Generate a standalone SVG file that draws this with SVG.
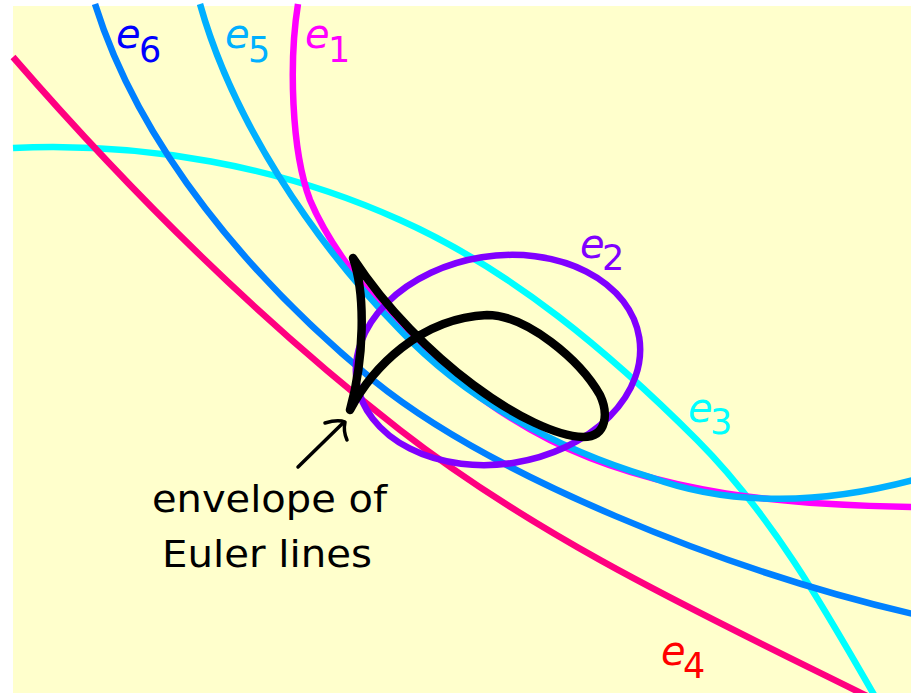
<svg xmlns="http://www.w3.org/2000/svg" width="911" height="693" viewBox="0 0 911 693">
<defs>
<style>
.c{fill:none;stroke-width:6.5;stroke-linecap:butt}
.lbl{font-family:"DejaVu Sans",sans-serif;font-style:italic;font-size:40px}
.sub{font-family:"DejaVu Sans",sans-serif;font-style:normal;font-size:35px}
.txt{font-family:"DejaVu Sans",sans-serif;font-size:38px;fill:#000}
</style>
</defs>
<rect x="13" y="6" width="898" height="687" fill="#FFFFCC"/>
<g id="curves">
<path id="e3" class="c" stroke="#00FFFF" d="M13,148 C144,142 281,166 400,220 C512,270 610,353 697,440 C771,514 825,609 877,700"/>
<path id="e4" class="c" stroke="#FF0080" d="M13,57 C131,193 258,319 400,430 C544,542 712,619 875,700"/>
<path id="e6" class="c" stroke="#0080FF" d="M95,4 C140,148 252,280 373,380 C490,475 723,570 913,614"/>
<path id="e1" class="c" stroke="#FF00FF" d="M298,4 C289,60 291,150 310,200 C346,285 450,390 550,440 C659,495 789,505 913,507"/>
<path id="e5" class="c" stroke="#00B0FF" d="M200,4 C232,118 310,238 400,330 C466,400 557,449 650,477 C733,508 826,503 913,480"/>
<ellipse id="e2" class="c" stroke="#8000FF" cx="498" cy="360" rx="143" ry="104" transform="rotate(-9 498 360)"/>
</g>
<g id="envelope">
<path fill="none" stroke="#000" stroke-width="8.5" stroke-linecap="round" stroke-linejoin="round" d="M353,258 C366,295 364,360 350,410 C372,368 420,318 487,315 C527,315 580,360 600,395 C608,412 608,437 583,437 C530,435 420,360 353,258"/>
</g>
<g id="connectors">
<path fill="none" stroke="#000" stroke-width="3.5" stroke-linecap="round" d="M298,467 L344,422"/>
<path fill="none" stroke="#000" stroke-width="3.5" stroke-linecap="round" stroke-linejoin="round" d="M325,423 Q338,419 345,422 Q343,431 347,440"/>
</g>
<g id="labels">
<text class="lbl" x="116" y="48" fill="#0000FF">e<tspan class="sub" x="139" y="62">6</tspan></text>
<text class="lbl" x="225" y="48" fill="#00B0FF">e<tspan class="sub" x="248" y="62">5</tspan></text>
<text class="lbl" x="305" y="48" fill="#FF00FF">e<tspan class="sub" x="328" y="62">1</tspan></text>
<text class="lbl" x="580" y="258" fill="#8000FF">e<tspan class="sub" x="602" y="270">2</tspan></text>
<text class="lbl" x="688" y="422" fill="#00FFFF">e<tspan class="sub" x="710" y="434">3</tspan></text>
<text class="lbl" x="661" y="665" fill="#FF0000">e<tspan class="sub" x="683" y="678">4</tspan></text>
</g>
<g id="caption">
<text class="txt" x="152" y="512" textLength="235" lengthAdjust="spacingAndGlyphs">envelope of</text>
<text class="txt" x="162" y="567" textLength="210" lengthAdjust="spacingAndGlyphs">Euler lines</text>
</g>
</svg>
